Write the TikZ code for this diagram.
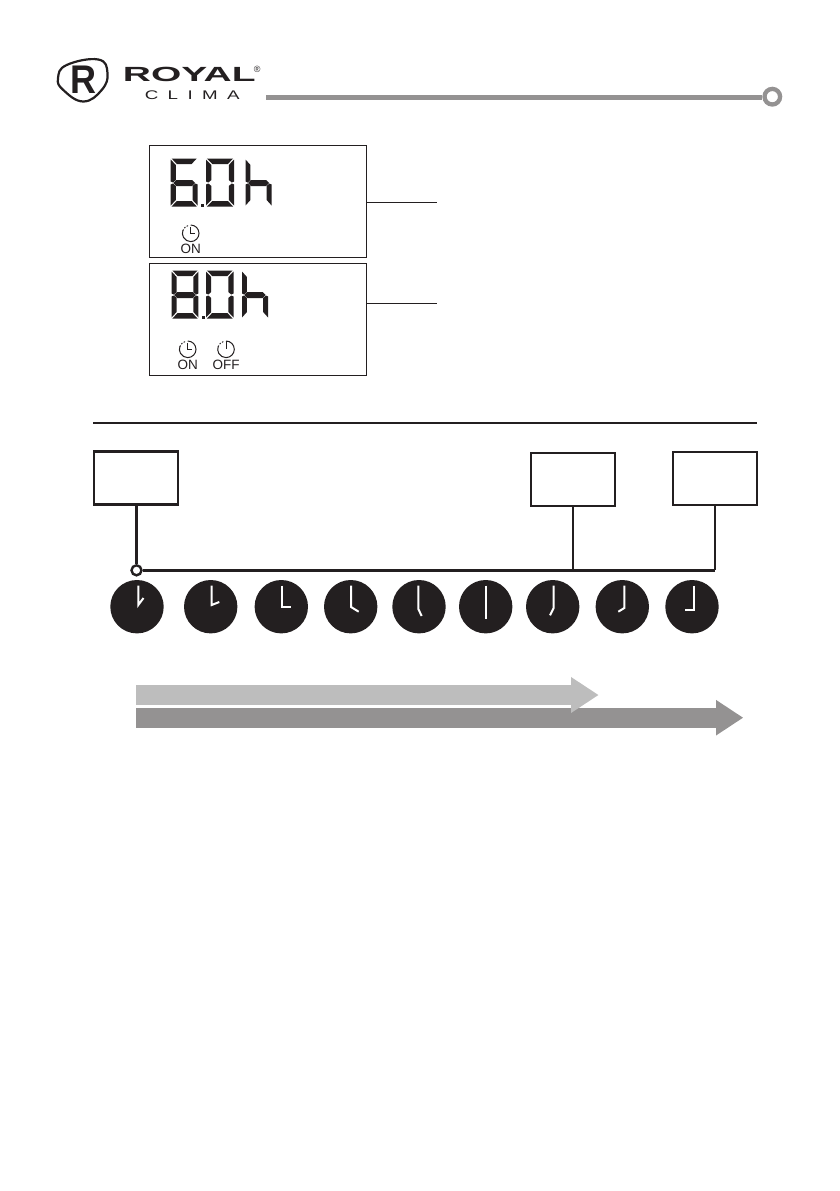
\documentclass[tikz,border=0pt]{standalone}
\usepackage{fontspec}
\setmainfont{Liberation Sans}
\newfontfamily\climafont[LetterSpace=50]{Liberation Sans}
\usetikzlibrary{arrows.meta,positioning}
\definecolor{inkblack}{HTML}{231F20}
\definecolor{barlight}{HTML}{BDBDBD}
\definecolor{bardark}{HTML}{949292}
\tikzset{
    pics/lcda/.style={code={\fill[inkblack] (1,0) -- (28,0) -- (22.5,5.5) -- (6.5,5.5) -- cycle;}},
    pics/lcdb/.style={code={\fill[inkblack] (29,1) -- (29,23) -- (26.5,24) -- (23.5,21.5) -- (23.5,6.5) -- cycle;}},
    pics/lcdc/.style={code={\fill[inkblack] (29,26) -- (29,47) -- (23.5,41.5) -- (23.5,27.5) -- (26.5,25) -- cycle;}},
    pics/lcdd/.style={code={\fill[inkblack] (1,48) -- (28,48) -- (22.5,42.5) -- (6.5,42.5) -- cycle;}},
    pics/lcde/.style={code={\fill[inkblack] (0,26) -- (0,47) -- (5.5,41.5) -- (5.5,27.5) -- (2.5,25) -- cycle;}},
    pics/lcdf/.style={code={\fill[inkblack] (0,1) -- (0,23) -- (2.5,24) -- (5.5,21.5) -- (5.5,6.5) -- cycle;}},
    pics/lcdg/.style={code={\fill[inkblack] (2.8,24.5) -- (6,21.5) -- (23,21.5) -- (26.2,24.5) -- (23,27.5) -- (6,27.5) -- cycle;}},
    pics/timeron/.style={code={
        \draw[iconline] (0,-8.3) arc[start angle=-90, end angle=200, radius=8.3];
        \draw[iconline, dotted, line cap=round] (-7.8,-2.8) arc[start angle=200, end angle=255, radius=8.3];
        \draw[iconline] (0,-6) -- (0,0) -- (4.5,0);
    }},
    pics/timeroff/.style={code={
        \draw[iconline] (0,-8.3) arc[start angle=-90, end angle=200, radius=8.3];
        \draw[iconline, dotted, line cap=round] (-7.8,-2.8) arc[start angle=200, end angle=255, radius=8.3];
        \draw[iconline] (0,-8.3) -- (0,0);
    }},
}

\begin{document}
\begin{tikzpicture}[
        x=1pt, y=-1pt,
        lcdbox/.style={rectangle, draw=inkblack, line width=1.4pt, minimum width=217pt, minimum height=112pt},
        timebox/.style={rectangle, draw=inkblack, line width=2.3pt, minimum width=84pt, minimum height=53pt},
        clockface/.style={circle, fill=inkblack, minimum size=53.4pt, inner sep=0pt},
        clockhand/.style={draw=white, line width=2pt},
        junctiondot/.style={circle, draw=inkblack, fill=white, line width=2.4pt, minimum size=10pt, inner sep=0pt},
        bus/.style={draw=inkblack, line width=2.4pt},
        lead/.style={draw=inkblack, line width=1pt},
        iconline/.style={draw=inkblack, line width=1pt},
        iconlabel/.style={font=\fontsize{13.5}{13.5}\selectfont, text=inkblack, inner sep=0pt},
        progressbar/.style={line width=20pt}
    ]
        \useasboundingbox (0,0) rectangle (839,1191);

        % header
        \draw[line width=2.2pt, draw=inkblack] plot[smooth cycle, tension=0.75] coordinates {(98.3,59.5) (107.5,73) (101.7,90) (83.3,101.5) (63.3,90) (58,78.3) (66.7,65)};
        \node[font=\bfseries\fontsize{40}{40}\selectfont, text=inkblack, inner sep=0pt, xscale=0.9] (logoR) at (83.5,79.5) {R};
        \node[font=\bfseries\fontsize{20.5}{20.5}\selectfont, text=inkblack, inner sep=0pt, xscale=1.9, anchor=base west] (royal) at (122.5,81) {ROYAL};
        \node[font=\fontsize{9}{9}\selectfont, text=inkblack, inner sep=0pt] (regmark) at (257.3,69.5) {®};
        \node[font=\climafont\fontsize{12.5}{12.5}\selectfont, text=inkblack, inner sep=0pt, xscale=1.5, anchor=base west] (clima) at (144.5,99) {CLIMA};
        \node[circle, draw=bardark, line width=4.3pt, minimum size=15.6pt, inner sep=0pt] (headend) at (772.3,96.7) {};
        \coordinate (headstart) at (266,97);
        \draw[draw=bardark, line width=5pt] (headstart) -- (headstart -| headend.west);

        % displays
        \node[lcdbox] (display6) at (258.1,201.3) {};
        \node[lcdbox] (display8) at (258.1,319.3) {};
        \coordinate (lead6) at (436.7,202.7);
        \coordinate (lead8) at (436.7,303.3);
        \draw[lead] (lead6 -| display6.east) -- (lead6);
        \draw[lead] (lead8 -| display8.east) -- (lead8);

        \foreach \s in {a,c,d,e,f,g} \pic[xscale=0.93] at (170.7,158.5) {lcd\s};
        \foreach \s in {a,b,c,d,e,f} \pic[xscale=0.97] at (206,158.5) {lcd\s};
        \foreach \s in {c,e,f,g} \pic[xscale=0.9] at (245.5,158.5) {lcd\s};
        \fill[inkblack] (200.5,203.5) rectangle (204,207);
        \pic at (190.7,233.3) {timeron};
        \node[iconlabel] (on6) at (190.7,249) {ON};

        \foreach \s in {a,b,c,d,e,f,g} \pic[xscale=0.93] at (171.5,270.5) {lcd\s};
        \foreach \s in {a,b,c,d,e,f} \pic[xscale=0.95] at (206,270.5) {lcd\s};
        \foreach \s in {c,e,f,g} \pic[xscale=0.9] at (242,270.5) {lcd\s};
        \fill[inkblack] (201.7,315.5) rectangle (205,319);
        \pic at (187.7,349.3) {timeron};
        \node[iconlabel] (on8) at (187.7,365) {ON};
        \pic at (226,349.3) {timeroff};
        \node[iconlabel] (off8) at (226,365) {OFF};

        \draw[draw=inkblack, line width=1.5pt] (93,423) -- (757,423);

        % time line
        \node[timebox] (boxstart) at (136,478) {};
        \node[timebox] (boxmid) at (573,479.5) {};
        \node[timebox] (boxend) at (714.7,478.5) {};
        \node[junctiondot] (junction) at (136.5,570.3) {};
        \draw[bus] (boxstart.south -| junction) -- (junction);
        \draw[bus] (junction) -- (junction -| boxend.south);
        \draw[bus] (boxmid.south) -- (boxmid.south |- junction);
        \draw[bus] (boxend.south) -- (boxend.south |- junction);

        \foreach \cx/\hx/\py/\ex/\ey [count=\i] in {
            137/138.3/605/143.5/598,
            210.7/211.7/605/219.3/602,
            281.3/282.3/607.3/291/607.3,
            350.7/351/607/358.7/611.7,
            419/418.3/609/421.7/616,
            485.7/485.7/600/485.7/618.5,
            552.7/553.7/608/550/615.3,
            622.3/624.3/608/618.3/611.7,
            692/693.7/610/685/610} {
            \node[clockface] (clock\i) at (\cx,606.7) {};
            \draw[clockhand] (\hx,585.5) -- (\hx,\py) -- (\ex,\ey);
        }

        % bars
        \coordinate (barstart) at (136,717.7);
        \coordinate (barend) at (743.3,717.7);
        \coordinate (lightstart) at (136,695);
        \coordinate (lightend) at (598.7,695);
        \draw[progressbar, draw=bardark, -{Triangle[length=27.3pt, width=33.6pt]}] (barstart) -- (barend);
        \draw[progressbar, draw=barlight, -{Triangle[length=27.7pt, width=34pt]}] (lightstart) -- (lightend);
    \end{tikzpicture}
\end{document}
